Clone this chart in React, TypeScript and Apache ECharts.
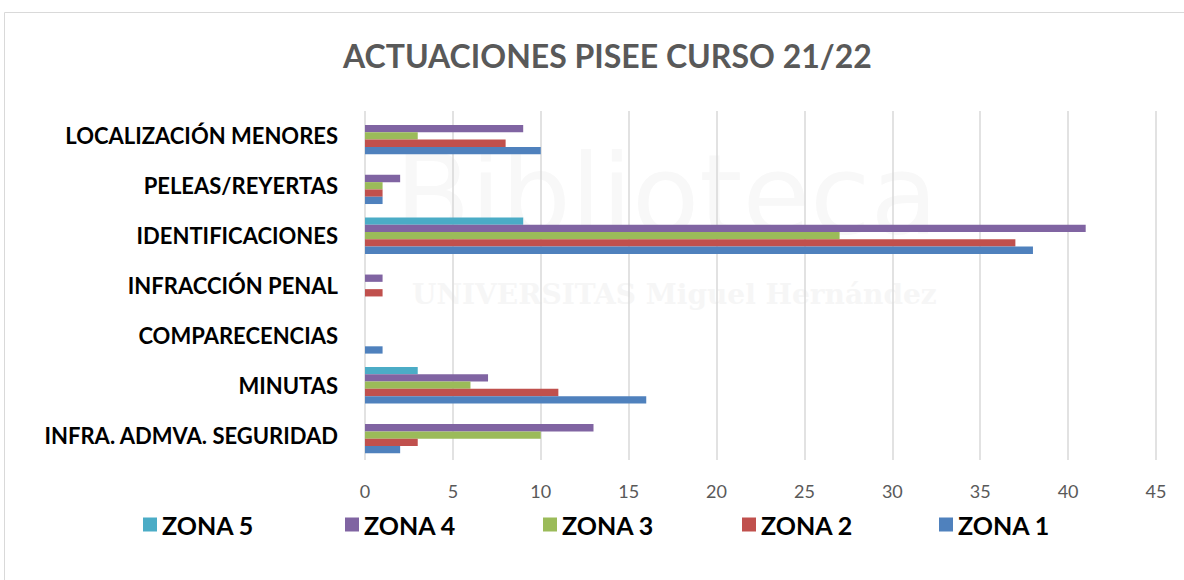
import React, { useEffect, useRef } from "react";
import * as echarts from "echarts";

const categories = [
  "INFRA. ADMVA. SEGURIDAD",
  "MINUTAS",
  "COMPARECENCIAS",
  "INFRACCIÓN PENAL",
  "IDENTIFICACIONES",
  "PELEAS/REYERTAS",
  "LOCALIZACIÓN MENORES",
];
const zona1 = [2, 16, 1, 0, 38, 1, 10];
const zona2 = [3, 11, 0, 1, 37, 1, 8];
const zona3 = [10, 6, 0, 0, 27, 1, 3];
const zona4 = [13, 7, 0, 1, 41, 2, 9];
const zona5 = [0, 3, 0, 0, 9, 0, 0];
// drawn top-to-bottom within each group
const seriesNames = ["ZONA 5", "ZONA 4", "ZONA 3", "ZONA 2", "ZONA 1"];
const seriesData = [zona5, zona4, zona3, zona2, zona1];
const colors = ["#4BACC6", "#8064A2", "#9BBB59", "#C0504D", "#4F81BD"];
const legendLefts = [138, 340, 538, 737, 934];

export default function App() {
  const ref = useRef<HTMLDivElement>(null);
  useEffect(() => {
    const chart = echarts.init(ref.current!, null, { renderer: "svg" });
    chart.setOption({
      animation: false,
      backgroundColor: "#ffffff",
      title: {
        text: "ACTUACIONES PISEE CURSO 21/22",
        left: 338,
        top: 34,
        textStyle: {
          fontFamily: "Lato",
          fontWeight: "bold",
          fontSize: 32,
          color: "#595959",
        },
      },
      graphic: [
        {
          type: "rect",
          shape: { x: 4.5, y: 12.5, width: 1200, height: 600 },
          style: { fill: "none", stroke: "#d9d9d9", lineWidth: 1 },
          silent: true,
          z: -10,
        },
        {
          type: "text",
          x: 395,
          y: 140,
          z: -5,
          silent: true,
          style: {
            text: "Biblioteca",
            font: "110px 'DejaVu Sans'",
            fill: "#f8f8f8",
          },
        },
        {
          type: "text",
          x: 412,
          y: 280,
          z: -5,
          silent: true,
          style: {
            text: "UNIVERSITAS Miguel Hernández",
            font: "bold 28px 'DejaVu Serif'",
            fill: "#f6f6f6",
          },
        },
      ],
      legend: seriesNames.map((name, i) => ({
        data: [name],
        left: legendLefts[i],
        top: 507,
        itemWidth: 14,
        itemHeight: 14,
        icon: "rect",
        textStyle: {
          fontFamily: "Lato",
          fontWeight: "bold",
          fontSize: 25,
          color: "#000000",
        },
      })),
      grid: { left: 365, right: 28, top: 111, bottom: 120, containLabel: false },
      xAxis: {
        type: "value",
        min: 0,
        max: 45,
        interval: 5,
        axisLine: { show: false },
        axisTick: { show: false },
        axisLabel: {
          fontFamily: "Lato",
          fontSize: 18,
          color: "#595959",
          margin: 22,
        },
        splitLine: { show: true, lineStyle: { color: "#d9d9d9", width: 1.5 } },
      },
      yAxis: {
        type: "category",
        data: categories,
        axisLine: { show: false },
        axisTick: { show: false },
        axisLabel: {
          fontFamily: "Lato",
          fontWeight: "bold",
          fontSize: 22,
          color: "#000000",
          margin: 27,
        },
      },
      series: seriesNames.map((name, i) => ({
        name,
        type: "bar",
        data: seriesData[i],
        barWidth: 7.3,
        barGap: "0%",
        itemStyle: { color: colors[i] },
      })),
    });
    return () => chart.dispose();
  }, []);
  return (
    <div
      ref={ref}
      style={{ position: "absolute", left: 0, top: 0, width: 1184, height: 580 }}
    />
  );
}
